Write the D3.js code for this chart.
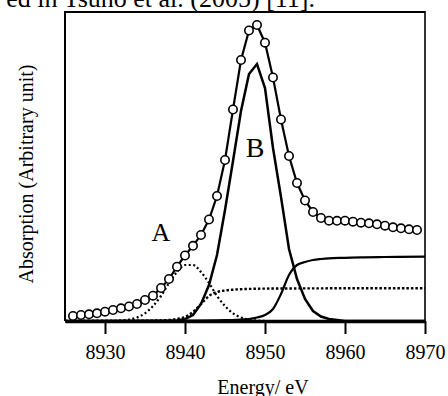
<!DOCTYPE html>
<html>
<head>
<meta charset="utf-8">
<script src="https://cdn.jsdelivr.net/npm/d3@7"></script>
<style>
  html, body { margin: 0; padding: 0; background: #fff; }
  svg { display: block; font-family: "Liberation Serif", "Times New Roman", serif; }
</style>
</head>
<body>
<svg id="chart" width="448" height="396"></svg>
<script>
// measured spectrum (open circles)
const dataEnergy = [8926, 8927, 8928, 8929, 8930, 8931, 8932, 8933, 8934, 8935,
  8936, 8937, 8938, 8939, 8940, 8941, 8942, 8943, 8944, 8945,
  8946, 8947, 8948, 8949, 8950, 8951, 8952, 8953, 8954, 8955,
  8956, 8957, 8958, 8959, 8960, 8961, 8962, 8963, 8964, 8965,
  8966, 8967, 8968, 8969];
const dataAbs = [0.05, 0.06, 0.067, 0.077, 0.093, 0.11, 0.127, 0.145, 0.17, 0.21,
  0.253, 0.33, 0.42, 0.543, 0.655, 0.752, 0.86, 1.015, 1.25, 1.61,
  2.115, 2.61, 2.905, 2.96, 2.783, 2.435, 2.015, 1.65, 1.38, 1.205,
  1.09, 1.03, 1.003, 1.002, 1.003, 0.993, 0.983, 0.977, 0.967, 0.953,
  0.937, 0.927, 0.917, 0.91];

// peak A (dotted)
const peakAEnergy = [8925, 8931, 8932, 8933, 8934, 8935, 8936, 8937, 8938, 8939, 8940,
  8941, 8942, 8943, 8944, 8945, 8946, 8947, 8948, 8949, 8950];
const peakAAbs = [0, 0.002, 0.005, 0.014, 0.035, 0.077, 0.15, 0.25, 0.38, 0.49, 0.56,
  0.56, 0.49, 0.38, 0.25, 0.15, 0.077, 0.035, 0.014, 0.005, 0];

// peak B (solid)
const peakBEnergy = [8925, 8938, 8939, 8940, 8941, 8942, 8943, 8944, 8945, 8946, 8947,
  8948, 8949, 8950, 8951, 8952, 8953, 8954, 8955, 8956, 8957,
  8958, 8959, 8960, 8970];
const peakBAbs = [0, 0, 0.005, 0.02, 0.06, 0.17, 0.36, 0.66, 1.11, 1.6, 2.1,
  2.47, 2.57, 2.33, 1.73, 1.24, 0.72, 0.42, 0.22, 0.1, 0.045,
  0.02, 0.01, 0, 0];

// edge step for A (dotted)
const stepAEnergy = [8925, 8935, 8938, 8939, 8940, 8941, 8942, 8943, 8944, 8945,
  8946, 8947, 8948, 8950, 8955, 8960, 8970];
const stepAAbs = [0, 0.003, 0.01, 0.02, 0.04, 0.09, 0.17, 0.25, 0.29, 0.305,
  0.313, 0.318, 0.321, 0.324, 0.326, 0.327, 0.327];

// edge step for B (solid)
const stepBEnergy = [8925, 8940, 8945, 8947, 8948, 8949, 8950, 8951, 8952, 8953,
  8954, 8955, 8956, 8957, 8958, 8960, 8962, 8965, 8970];
const stepBAbs = [0, 0.003, 0.008, 0.015, 0.02, 0.035, 0.06, 0.12, 0.27, 0.46,
  0.56, 0.59, 0.61, 0.62, 0.627, 0.632, 0.637, 0.64, 0.643];

const xTicks = [8930, 8940, 8950, 8960, 8970];

var svg = d3.select("#chart");
var plotLeft = 65, plotRight = 425, plotTop = 12, plotBottom = 321;

var x = d3.scaleLinear().domain([8925, 8970]).range([plotLeft, plotRight]);
var y = d3.scaleLinear().domain([0, 3.09]).range([plotBottom, plotTop]);

// cut-off caption line above the figure
svg.append("text")
  .attr("x", 315)
  .attr("y", 7)
  .attr("text-anchor", "end")
  .attr("font-size", 26)
  .text("ed in Tsuno et al. (2005) [11].");

const zip = (xs, ys) => xs.map((e, i) => [e, ys[i]]);

var line = d3.line().x(d => x(d[0])).y(d => y(d[1]));
var smooth = d3.line().x(d => x(d[0])).y(d => y(d[1])).curve(d3.curveMonotoneX);

var plot = svg.append("g");

plot.append("path")
  .datum(zip(stepAEnergy, stepAAbs))
  .attr("d", smooth)
  .attr("fill", "none")
  .attr("stroke", "#000")
  .attr("stroke-width", 2.4)
  .attr("stroke-dasharray", "2.5,2");

plot.append("path")
  .datum(zip(peakAEnergy, peakAAbs))
  .attr("d", smooth)
  .attr("fill", "none")
  .attr("stroke", "#000")
  .attr("stroke-width", 2.2)
  .attr("stroke-dasharray", "2,2.5");

plot.append("path")
  .datum(zip(stepBEnergy, stepBAbs))
  .attr("d", smooth)
  .attr("fill", "none")
  .attr("stroke", "#000")
  .attr("stroke-width", 2.2);

plot.append("path")
  .datum(zip(peakBEnergy, peakBAbs))
  .attr("d", line)
  .attr("fill", "none")
  .attr("stroke", "#000")
  .attr("stroke-width", 2.5);

plot.append("path")
  .datum(zip(dataEnergy, dataAbs))
  .attr("d", line)
  .attr("fill", "none")
  .attr("stroke", "#000")
  .attr("stroke-width", 2.2);

plot.selectAll("circle")
  .data(zip(dataEnergy, dataAbs))
  .enter()
  .append("circle")
  .attr("cx", d => x(d[0]))
  .attr("cy", d => y(d[1]))
  .attr("r", 4.2)
  .attr("fill", "#fff")
  .attr("stroke", "#000")
  .attr("stroke-width", 1.6);

// frame
svg.append("line").attr("x1", plotLeft).attr("x2", plotRight).attr("y1", plotTop).attr("y2", plotTop)
  .attr("stroke", "#000").attr("stroke-width", 2);
svg.append("line").attr("x1", plotLeft).attr("x2", plotLeft).attr("y1", plotTop - 1).attr("y2", plotBottom)
  .attr("stroke", "#000").attr("stroke-width", 2);
svg.append("line").attr("x1", plotRight).attr("x2", plotRight).attr("y1", plotTop - 1).attr("y2", plotBottom)
  .attr("stroke", "#000").attr("stroke-width", 1.6);

var xAxis = svg.append("g")
  .attr("transform", `translate(0,${plotBottom})`)
  .call(d3.axisBottom(x).tickValues(xTicks).tickFormat(d3.format("d"))
    .tickSize(13).tickSizeOuter(0).tickPadding(11));
xAxis.select(".domain").attr("stroke-width", 3.5);
xAxis.selectAll(".tick line").attr("stroke-width", 2);
xAxis.selectAll(".tick text")
  .attr("font-family", "Liberation Serif, Times New Roman, serif")
  .attr("font-size", 20)
  .attr("fill", "#000");

// labels
svg.append("text")
  .attr("x", 263)
  .attr("y", 394)
  .attr("text-anchor", "middle")
  .attr("font-size", 20)
  .text("Energy/ eV");

svg.append("text")
  .attr("transform", "translate(33,174) rotate(-90)")
  .attr("text-anchor", "middle")
  .attr("font-size", 20)
  .text("Absorption (Arbitrary unit)");

svg.append("text")
  .attr("x", 161)
  .attr("y", 241)
  .attr("text-anchor", "middle")
  .attr("font-size", 26)
  .text("A");

svg.append("text")
  .attr("x", 255)
  .attr("y", 157)
  .attr("text-anchor", "middle")
  .attr("font-size", 28)
  .text("B");
</script>
</body>
</html>
